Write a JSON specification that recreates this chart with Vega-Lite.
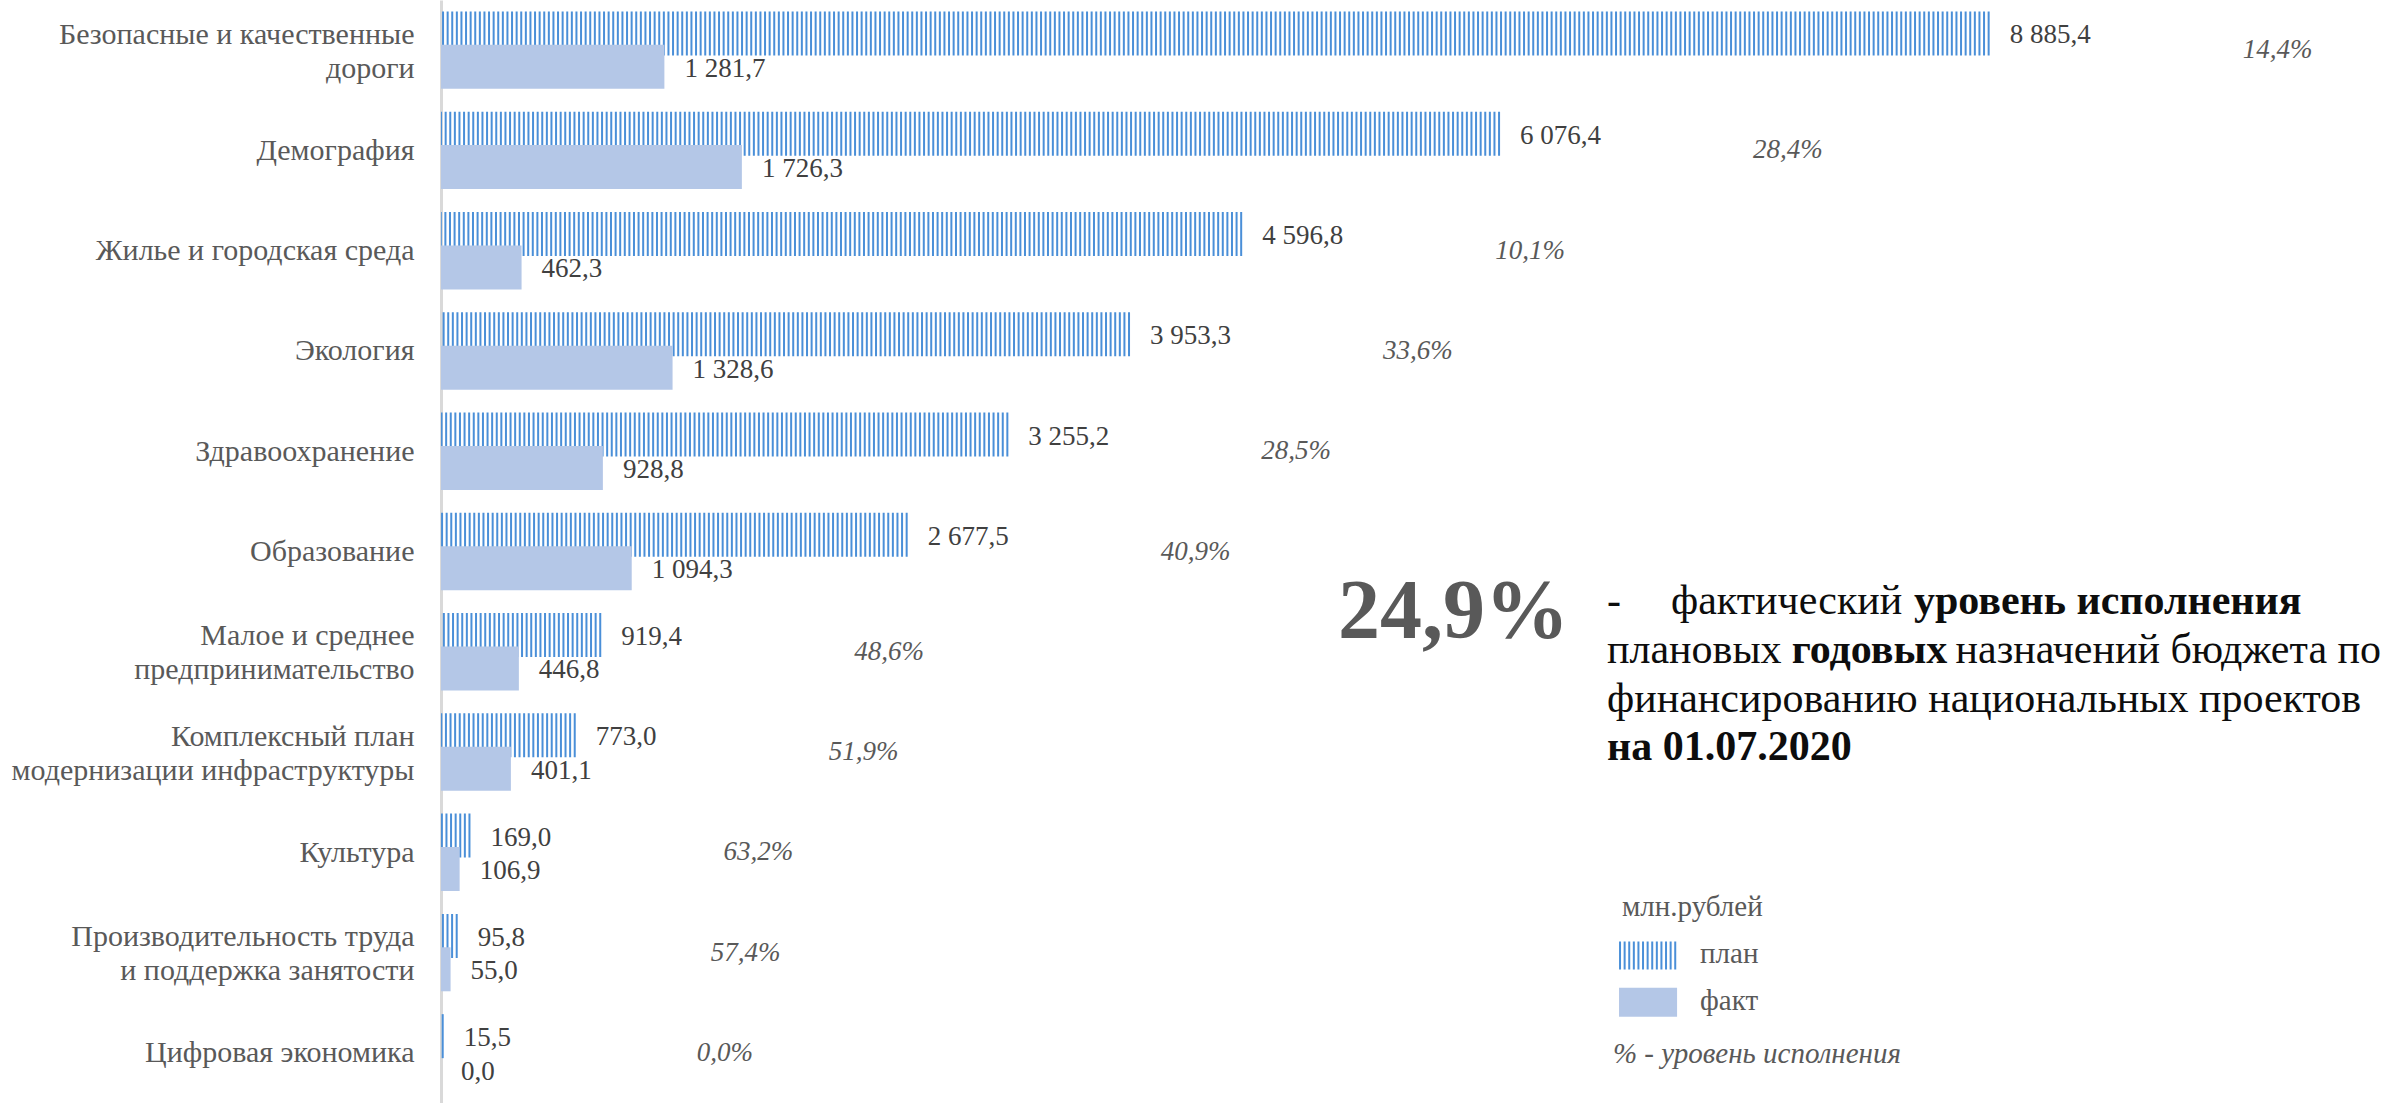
{
  "$schema": "https://vega.github.io/schema/vega-lite/v6.json",
  "autosize": {"type": "none"},
  "padding": {"left": 441, "top": 0, "right": 0, "bottom": 0},
  "width": 1966,
  "height": 1103,
  "background": "white",
  "config": {
    "view": {"stroke": null},
    "font": "Liberation Serif",
    "locale": {"number": {"decimal": ",", "thousands": " ", "grouping": [3], "currency": ["", ""], "percent": "%"}}
  },
  "datasets": {
    "rows": [
      {"cat": "Безопасные и качественные\nдороги", "series": "план", "value": 8885.4, "pct": 0.144},
      {"cat": "Безопасные и качественные\nдороги", "series": "факт", "value": 1281.7},
      {"cat": "Демография", "series": "план", "value": 6076.4, "pct": 0.284},
      {"cat": "Демография", "series": "факт", "value": 1726.3},
      {"cat": "Жилье и городская среда", "series": "план", "value": 4596.8, "pct": 0.101},
      {"cat": "Жилье и городская среда", "series": "факт", "value": 462.3},
      {"cat": "Экология", "series": "план", "value": 3953.3, "pct": 0.336},
      {"cat": "Экология", "series": "факт", "value": 1328.6},
      {"cat": "Здравоохранение", "series": "план", "value": 3255.2, "pct": 0.285},
      {"cat": "Здравоохранение", "series": "факт", "value": 928.8},
      {"cat": "Образование", "series": "план", "value": 2677.5, "pct": 0.409},
      {"cat": "Образование", "series": "факт", "value": 1094.3},
      {"cat": "Малое и среднее\nпредпринимательство", "series": "план", "value": 919.4, "pct": 0.486},
      {"cat": "Малое и среднее\nпредпринимательство", "series": "факт", "value": 446.8},
      {"cat": "Комплексный план\nмодернизации инфраструктуры", "series": "план", "value": 773.0, "pct": 0.519},
      {"cat": "Комплексный план\nмодернизации инфраструктуры", "series": "факт", "value": 401.1},
      {"cat": "Культура", "series": "план", "value": 169.0, "pct": 0.632},
      {"cat": "Культура", "series": "факт", "value": 106.9},
      {"cat": "Производительность труда\nи поддержка занятости", "series": "план", "value": 95.8, "pct": 0.574},
      {"cat": "Производительность труда\nи поддержка занятости", "series": "факт", "value": 55.0},
      {"cat": "Цифровая экономика", "series": "план", "value": 15.5, "pct": 0.0},
      {"cat": "Цифровая экономика", "series": "факт", "value": 0.0}
    ]
  },
  "encoding": {
    "y": {
      "field": "cat", "type": "nominal", "title": null,
      "scale": {"type": "point", "padding": 0.5, "domain": [
        "Безопасные и качественные\nдороги", "Демография", "Жилье и городская среда", "Экология", "Здравоохранение", "Образование",
        "Малое и среднее\nпредпринимательство", "Комплексный план\nмодернизации инфраструктуры", "Культура",
        "Производительность труда\nи поддержка занятости", "Цифровая экономика"]},
      "axis": {
        "domainColor": "#d9d9d9", "domainWidth": 3, "ticks": false, "grid": false, "title": null,
        "labelPadding": 27, "labelFont": "Liberation Serif", "labelFontSize": 30, "labelColor": "#595959",
        "labelLimit": 600, "labelLineHeight": 34,
        "labelExpr": "split(datum.label, '\\n')",
        "labelOffset": {"condition": {"test": "indexof(datum.value, '\\n') >= 0", "value": -16}, "value": 0},
        "encode": {"labels": {
          "align": {"condition": {"test": "indexof(datum.value, '\\n') >= 0", "value": "center"}, "value": "right"},
          "dx": {"condition": [
            {"test": "indexof(datum.value, 'Безопасные') >= 0", "value": -173},
            {"test": "indexof(datum.value, 'Малое') >= 0", "value": -138},
            {"test": "indexof(datum.value, 'Комплексный') >= 0", "value": -203},
            {"test": "indexof(datum.value, 'Производительность') >= 0", "value": -170}
          ], "value": 0}
        }}
      }
    }
  },
  "layer": [
    {
      "data": {"name": "rows"},
      "transform": [{"filter": "datum.series === 'план'"}],
      "mark": {"type": "rule", "strokeWidth": 44, "strokeDash": [2, 2.6], "strokeCap": "butt", "yOffset": -16.7, "color": "#4a8fd8"},
      "encoding": {
        "x": {"field": "value", "type": "quantitative", "axis": null, "scale": {"domain": [0, 11280], "nice": false, "zero": true}},
        "x2": {"datum": 0}
      }
    },
    {
      "data": {"name": "rows"},
      "transform": [{"filter": "datum.series === 'факт'"}],
      "mark": {"type": "rule", "strokeWidth": 44, "strokeCap": "butt", "yOffset": 16.7, "color": "#b4c7e7"},
      "encoding": {
        "x": {"field": "value", "type": "quantitative"},
        "x2": {"datum": 0}
      }
    },
    {
      "data": {"name": "rows"},
      "transform": [{"filter": "datum.series === 'план'"}],
      "mark": {"type": "text", "align": "left", "baseline": "middle", "dx": 20, "dy": 2, "yOffset": -16.7, "fontSize": 27, "font": "Liberation Serif", "color": "#404040"},
      "encoding": {
        "x": {"field": "value", "type": "quantitative"},
        "text": {"field": "value", "type": "quantitative", "format": ",.1f"}
      }
    },
    {
      "data": {"name": "rows"},
      "transform": [{"filter": "datum.series === 'факт'"}],
      "mark": {"type": "text", "align": "left", "baseline": "middle", "dx": 20, "dy": 2, "yOffset": 16.7, "fontSize": 27, "font": "Liberation Serif", "color": "#404040"},
      "encoding": {
        "x": {"field": "value", "type": "quantitative"},
        "text": {"field": "value", "type": "quantitative", "format": ",.1f"}
      }
    },
    {
      "data": {"name": "rows"},
      "transform": [{"filter": "datum.series === 'план'"}],
      "mark": {"type": "text", "align": "left", "baseline": "middle", "dx": 253, "dy": 0, "fontSize": 27, "font": "Liberation Serif", "fontStyle": "italic", "color": "#595959"},
      "encoding": {
        "x": {"field": "value", "type": "quantitative"},
        "text": {"field": "pct", "type": "quantitative", "format": ".1%"}
      }
    },
    {
      "data": {"values": [{}]},
      "mark": {"type": "rule", "strokeWidth": 28, "strokeDash": [2, 2.6], "strokeCap": "butt", "yOffset": 3, "color": "#4a8fd8"},
      "encoding": {"x": {"datum": 6759, "type": "quantitative"}, "x2": {"datum": 7092}, "y": {"datum": "Производительность труда\nи поддержка занятости", "type": "nominal"}}
    },
    {
      "data": {"values": [{}]},
      "mark": {"type": "rule", "strokeWidth": 29, "strokeCap": "butt", "yOffset": 49.6, "color": "#b4c7e7"},
      "encoding": {"x": {"datum": 6759, "type": "quantitative"}, "x2": {"datum": 7092}, "y": {"datum": "Производительность труда\nи поддержка занятости", "type": "nominal"}}
    },
    {
      "data": {"values": [{}]},
      "mark": {"type": "text", "text": "млн.рублей", "align": "left", "baseline": "alphabetic", "dy": -37, "fontSize": 29, "font": "Liberation Serif", "color": "#595959"},
      "encoding": {"x": {"datum": 6776, "type": "quantitative"}, "y": {"datum": "Производительность труда\nи поддержка занятости", "type": "nominal"}}
    },
    {
      "data": {"values": [{}]},
      "mark": {"type": "text", "text": "план", "align": "left", "baseline": "alphabetic", "dy": 10, "fontSize": 29, "font": "Liberation Serif", "color": "#595959"},
      "encoding": {"x": {"datum": 7224, "type": "quantitative"}, "y": {"datum": "Производительность труда\nи поддержка занятости", "type": "nominal"}}
    },
    {
      "data": {"values": [{}]},
      "mark": {"type": "text", "text": "факт", "align": "left", "baseline": "alphabetic", "dy": 57, "fontSize": 29, "font": "Liberation Serif", "color": "#595959"},
      "encoding": {"x": {"datum": 7224, "type": "quantitative"}, "y": {"datum": "Производительность труда\nи поддержка занятости", "type": "nominal"}}
    },
    {
      "data": {"values": [{}]},
      "mark": {"type": "text", "text": "24,9%", "align": "left", "baseline": "alphabetic", "dy": -14, "fontSize": 84, "fontWeight": "bold", "font": "Liberation Serif", "color": "#595959"},
      "encoding": {"x": {"datum": 5146, "type": "quantitative"}, "y": {"datum": "Малое и среднее\nпредпринимательство", "type": "nominal"}}
    },
    {
      "data": {"values": [{}]},
      "mark": {"type": "text", "text": "-", "align": "left", "baseline": "alphabetic", "dy": -38, "fontSize": 42, "font": "Liberation Serif", "color": "#0d0d0d"},
      "encoding": {"x": {"datum": 6690, "type": "quantitative"}, "y": {"datum": "Малое и среднее\nпредпринимательство", "type": "nominal"}}
    },
    {
      "data": {"values": [{}]},
      "mark": {"type": "text", "text": "фактический", "align": "left", "baseline": "alphabetic", "dy": -38, "fontSize": 42, "font": "Liberation Serif", "color": "#0d0d0d"},
      "encoding": {"x": {"datum": 7057, "type": "quantitative"}, "y": {"datum": "Малое и среднее\nпредпринимательство", "type": "nominal"}}
    },
    {
      "data": {"values": [{}]},
      "mark": {"type": "text", "text": "уровень исполнения", "align": "left", "baseline": "alphabetic", "dy": -38, "fontSize": 42, "fontWeight": "bold", "font": "Liberation Serif", "color": "#0d0d0d"},
      "encoding": {"x": {"datum": 8451, "type": "quantitative"}, "y": {"datum": "Малое и среднее\nпредпринимательство", "type": "nominal"}}
    },
    {
      "data": {"values": [{}]},
      "mark": {"type": "text", "text": "плановых", "align": "left", "baseline": "alphabetic", "dy": 11, "fontSize": 42, "font": "Liberation Serif", "color": "#0d0d0d"},
      "encoding": {"x": {"datum": 6690, "type": "quantitative"}, "y": {"datum": "Малое и среднее\nпредпринимательство", "type": "nominal"}}
    },
    {
      "data": {"values": [{}]},
      "mark": {"type": "text", "text": "годовых", "align": "left", "baseline": "alphabetic", "dy": 11, "fontSize": 42, "fontWeight": "bold", "font": "Liberation Serif", "color": "#0d0d0d"},
      "encoding": {"x": {"datum": 7750, "type": "quantitative"}, "y": {"datum": "Малое и среднее\nпредпринимательство", "type": "nominal"}}
    },
    {
      "data": {"values": [{}]},
      "mark": {"type": "text", "text": "назначений бюджета по", "align": "left", "baseline": "alphabetic", "dy": 11, "fontSize": 42, "font": "Liberation Serif", "color": "#0d0d0d"},
      "encoding": {"x": {"datum": 8690, "type": "quantitative"}, "y": {"datum": "Малое и среднее\nпредпринимательство", "type": "nominal"}}
    },
    {
      "data": {"values": [{}]},
      "mark": {"type": "text", "text": "финансированию национальных проектов", "align": "left", "baseline": "alphabetic", "dy": 60, "fontSize": 42, "font": "Liberation Serif", "color": "#0d0d0d"},
      "encoding": {"x": {"datum": 6690, "type": "quantitative"}, "y": {"datum": "Малое и среднее\nпредпринимательство", "type": "nominal"}}
    },
    {
      "data": {"values": [{}]},
      "mark": {"type": "text", "text": "на 01.07.2020", "align": "left", "baseline": "alphabetic", "dy": 108, "fontSize": 42, "fontWeight": "bold", "font": "Liberation Serif", "color": "#0d0d0d"},
      "encoding": {"x": {"datum": 6690, "type": "quantitative"}, "y": {"datum": "Малое и среднее\nпредпринимательство", "type": "nominal"}}
    },
    {
      "data": {"values": [{}]},
      "mark": {"type": "text", "text": "% - уровень исполнения", "align": "left", "baseline": "alphabetic", "dy": 10, "fontSize": 29, "fontStyle": "italic", "font": "Liberation Serif", "color": "#595959"},
      "encoding": {"x": {"datum": 6724, "type": "quantitative"}, "y": {"datum": "Цифровая экономика", "type": "nominal"}}
    }
  ]
}
